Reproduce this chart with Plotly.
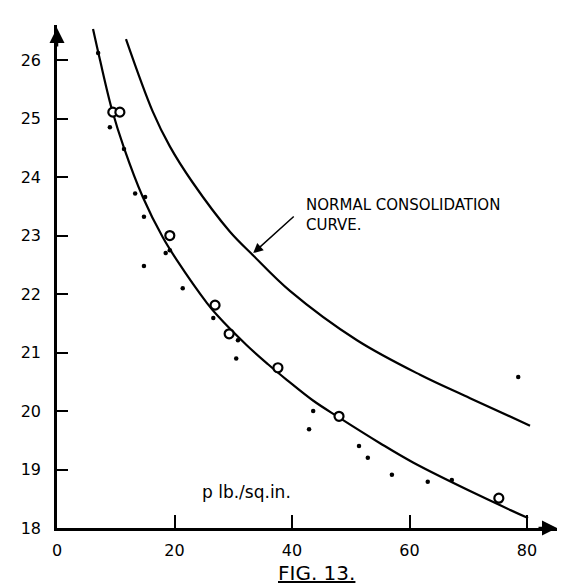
import plotly.graph_objects as go

# Open-circle observations (p in lb/sq.in, w %)
circ_p = [9.5, 10.7, 19.2, 26.9, 29.3, 37.6, 48.0, 75.2]
circ_w = [25.11, 25.11, 23.0, 21.81, 21.32, 20.74, 19.91, 18.51]

# Small dot observations
dot_p = [7.0, 9.0, 11.4, 13.3, 15.0, 14.8, 14.8, 18.5, 19.2, 21.4, 26.6, 30.8, 30.5,
         43.6, 42.9, 51.4, 52.9, 57.0, 63.1, 67.2, 78.5]
dot_w = [26.12, 24.85, 24.48, 23.72, 23.66, 23.32, 22.48, 22.70, 22.75, 22.10, 21.59, 21.21, 20.90,
         20.00, 19.69, 19.40, 19.20, 18.91, 18.79, 18.82, 20.58]

# Fitted curve through the observations (traced)
fit_p = [6.13, 7.32, 9.36, 11.40, 14.6, 18.0, 20.4, 25.5, 27.23,
         32.34, 35.91, 39.15, 43.57, 47.83, 54.98, 60.60, 72.0, 80.17]
fit_w = [26.53, 26.00, 25.15, 24.50, 23.66, 22.97, 22.58, 21.85, 21.64,
         21.12, 20.80, 20.53, 20.18, 19.90, 19.45, 19.12, 18.55, 18.17]

# Normal consolidation curve (traced)
ncc_p = [11.74, 16.3, 19.23, 23.0, 29.4, 33.4, 39.7, 51.06, 61.79, 70.30, 80.51]
ncc_w = [26.36, 25.12, 24.52, 23.92, 23.07, 22.66, 22.05, 21.21, 20.62, 20.22, 19.75]

x_ticks = [0, 20, 40, 60, 80]
y_ticks = [18, 19, 20, 21, 22, 23, 24, 25, 26]

FONT = "DejaVu Sans"

fig = go.Figure()
fig.add_trace(go.Scatter(x=ncc_p, y=ncc_w, mode="lines",
                         line=dict(color="black", width=2.2, shape="spline", smoothing=1.0),
                         hoverinfo="skip", showlegend=False))
fig.add_trace(go.Scatter(x=fit_p, y=fit_w, mode="lines",
                         line=dict(color="black", width=2.2, shape="spline", smoothing=1.0),
                         hoverinfo="skip", showlegend=False))
fig.add_trace(go.Scatter(x=dot_p, y=dot_w, mode="markers",
                         marker=dict(color="black", size=4.5, symbol="circle"), showlegend=False))
fig.add_trace(go.Scatter(x=circ_p, y=circ_w, mode="markers",
                         marker=dict(color="white", size=9, symbol="circle",
                                     line=dict(color="black", width=2.2)), showlegend=False))

fig.update_xaxes(range=[0, 85.1], tickvals=x_ticks, ticks="inside", ticklen=13, tickwidth=1.5,
                 tickcolor="black", showline=True, linecolor="black", linewidth=2.5,
                 showgrid=False, zeroline=False, ticklabelstandoff=6,
                 tickfont=dict(family=FONT, size=16, color="black"))
fig.update_yaxes(range=[18, 26.6], tickvals=y_ticks, ticks="inside", ticklen=11, tickwidth=1.5,
                 tickcolor="black", showline=True, linecolor="black", linewidth=2.5,
                 showgrid=False, zeroline=False, ticklabelstandoff=10,
                 tickfont=dict(family=FONT, size=16, color="black"))

ann = [
    # axis arrowheads
    dict(x=0, y=26.55, xref="x", yref="y", ax=0, ay=20, axref="pixel", ayref="pixel",
         showarrow=True, arrowhead=2, arrowsize=1.2, arrowwidth=2.5, arrowcolor="black", text=""),
    dict(x=85.1, y=18, xref="x", yref="y", ax=-20, ay=0, showarrow=True, arrowhead=2,
         arrowsize=1.2, arrowwidth=2.5, arrowcolor="black", text=""),
    # arrow to normal consolidation curve
    dict(x=33.4, y=22.70, xref="x", yref="y", ax=42, ay=-38, showarrow=True, arrowhead=2,
         arrowsize=1.3, arrowwidth=1.5, arrowcolor="black", text=""),
    dict(x=42.0, y=23.0, xref="x", yref="y", xanchor="left", yanchor="bottom", showarrow=False,
         align="left", text="NORMAL CONSOLIDATION<br>CURVE.",
         font=dict(family=FONT, size=15, color="black")),
    dict(x=2.9, y=26.68, xref="x", yref="y", showarrow=False, text="w",
         font=dict(family=FONT, size=19, color="black")),
    dict(x=-3.0, y=22.46, xref="x", yref="y", showarrow=False, text="w%",
         font=dict(family=FONT, size=17, color="black")),
    dict(x=86.6, y=18.02, xref="x", yref="y", showarrow=False, text="p",
         font=dict(family=FONT, size=19, color="black")),
    dict(x=32.3, y=18.62, xref="x", yref="y", showarrow=False, text="p lb./sq.in.",
         font=dict(family=FONT, size=17, color="black")),
    dict(x=0.518, y=-0.09, xref="paper", yref="paper", showarrow=False, yanchor="middle",
         text="<u>FIG. 13.</u>", font=dict(family=FONT, size=20, color="black")),
]
fig.update_layout(width=574, height=587, margin=dict(l=57, r=17, t=25, b=59),
                  paper_bgcolor="white", plot_bgcolor="white", annotations=ann,
                  showlegend=False)

fig.write_html("out.html")
